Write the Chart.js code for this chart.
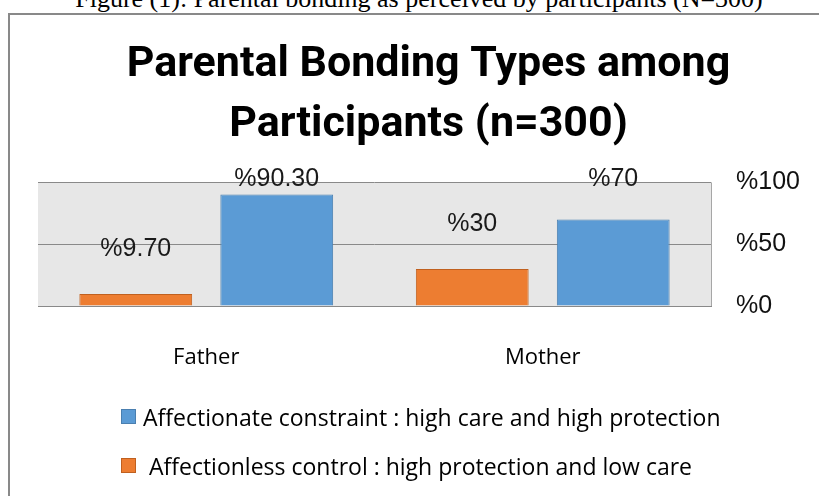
<!DOCTYPE html>
<html>
<head>
<meta charset="utf-8">
<script src="https://cdn.jsdelivr.net/npm/chart.js@4.4.1/dist/chart.umd.min.js"></script>
<style>
    html, body { margin: 0; padding: 0; background: #fff; overflow: hidden; }
    #page { position: relative; width: 819px; height: 496px; overflow: hidden; }
    #caption {
        position: absolute; left: 0; top: -14px; width: 838px;
        text-align: center; font: 26px/26px "Liberation Serif", "Times New Roman", serif;
        color: #000; white-space: nowrap;
    }
    #frame {
        position: absolute; left: 8px; top: 13px; width: 900px; height: 600px;
        border: 2px solid #898989; box-sizing: border-box;
    }
    #bondingChart { position: absolute; left: 0; top: 0; }
    #legend {
        position: absolute; left: 121px; top: 392px;
        font: 23px "Open Sans", sans-serif; color: #000;
    }
    .legend-row { display: flex; align-items: center; height: 49px; white-space: pre; }
    .legend-box { width: 15px; height: 15px; box-sizing: border-box; border: 1px solid; margin-right: 7px; }
</style>
</head>
<body>
<div id="page">
    <div id="caption">Figure (1): Parental bonding as perceived by participants (N=300)</div>
    <div id="frame"></div>
    <canvas id="bondingChart" width="819" height="496"></canvas>
    <div id="legend"></div>
</div>
<script>
// Data
const categories = ['Father', 'Mother'];
const controlLabel = ' Affectionless control : high protection and low care';
const constraintLabel = 'Affectionate constraint : high care and high protection';
const controlValues = [9.7, 30];
const constraintValues = [90.3, 70];
const yTickValues = [0, 50, 100];

const ORANGE = '#ed7d31';
const BLUE = '#5b9bd5';

// Percent text like the source: "%9.70", "%30"
function pct(v) {
    return '%' + (Number.isInteger(v) ? v : v.toFixed(2));
}

// Gray plot area with a right edge line
const plotBackground = {
    id: 'plotBackground',
    beforeDraw(chart) {
        const { ctx, chartArea: a } = chart;
        ctx.save();
        ctx.fillStyle = '#e7e7e7';
        ctx.fillRect(a.left, a.top, a.right - a.left, a.bottom - a.top);
        ctx.strokeStyle = '#a6a6a6';
        ctx.lineWidth = 1;
        ctx.beginPath();
        ctx.moveTo(a.right + 0.5, a.top);
        ctx.lineTo(a.right + 0.5, a.bottom);
        ctx.stroke();
        ctx.restore();
    }
};

// Value labels above the bars
const valueLabels = {
    id: 'valueLabels',
    afterDatasetsDraw(chart) {
        const { ctx, chartArea } = chart;
        ctx.save();
        ctx.font = '25px "Liberation Sans", Arial, sans-serif';
        ctx.fillStyle = '#1a1a1a';
        ctx.textAlign = 'center';
        ctx.textBaseline = 'middle';
        chart.data.datasets.forEach((ds, i) => {
            chart.getDatasetMeta(i).data.forEach((bar, j) => {
                const y = Math.max(bar.y - 45, chartArea.top - 3);
                ctx.fillText(pct(ds.data[j]), bar.x, y);
            });
        });
        ctx.restore();
    }
};

const chart = new Chart(document.getElementById('bondingChart'), {
    type: 'bar',
    data: {
        labels: categories,
        datasets: [{
            label: controlLabel,
            data: controlValues,
            backgroundColor: ORANGE,
            borderColor: '#c0601f',
            borderWidth: 1
        }, {
            label: constraintLabel,
            data: constraintValues,
            backgroundColor: BLUE,
            borderColor: '#4a7fb0',
            borderWidth: 1
        }]
    },
    options: {
        responsive: false,
        animation: false,
        categoryPercentage: 0.838,
        barPercentage: 0.8,
        layout: { padding: { left: 38, right: 0, top: 0, bottom: 0 } },
        scales: {
            x: {
                grid: { display: false },
                border: { color: '#898989' },
                ticks: {
                    padding: 31,
                    color: '#000',
                    font: { family: '"Open Sans", sans-serif', size: 22 }
                },
                afterFit(scale) { scale.height = 190; }
            },
            y: {
                position: 'right',
                min: 0,
                max: 100,
                border: { display: false },
                grid: { color: '#898989', drawTicks: false },
                afterBuildTicks(scale) {
                    scale.ticks = yTickValues.map(v => ({ value: v }));
                },
                ticks: {
                    padding: 25,
                    color: '#111',
                    font: { family: '"Liberation Sans", Arial, sans-serif', size: 25 },
                    callback: v => '%' + v
                },
                afterFit(scale) { scale.width = 108; }
            }
        },
        plugins: {
            legend: { display: false },
            tooltip: { enabled: false },
            title: {
                display: true,
                text: ['Parental Bonding Types among', 'Participants (n=300)'],
                color: '#000',
                font: { family: 'Roboto, sans-serif', size: 43, weight: 'bold', lineHeight: 1.4 },
                padding: { top: 35, bottom: 27 }
            }
        }
    },
    plugins: [plotBackground, valueLabels]
});

// HTML legend, blue series first as in the source
const legend = document.getElementById('legend');
chart.data.datasets.slice().reverse().forEach(ds => {
    const row = document.createElement('div');
    row.className = 'legend-row';
    const box = document.createElement('span');
    box.className = 'legend-box';
    box.style.background = ds.backgroundColor;
    box.style.borderColor = ds.borderColor;
    const text = document.createElement('span');
    text.textContent = ds.label;
    row.appendChild(box);
    row.appendChild(text);
    legend.appendChild(row);
});
</script>
</body>
</html>
